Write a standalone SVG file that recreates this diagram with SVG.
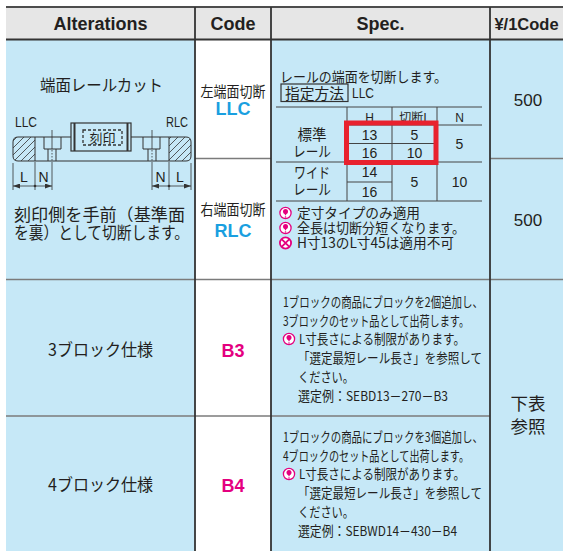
<svg xmlns="http://www.w3.org/2000/svg" width="563" height="551" viewBox="0 0 563 551">
<style>
.j{font-family:"Noto Sans CJK JP","Noto Sans",sans-serif;fill:#231f20}
.l{font-family:"Liberation Sans",Arial,sans-serif;fill:#231f20}
.hd{font-family:"Liberation Sans",Arial,sans-serif;font-weight:bold;font-size:18px;fill:#231f20;text-anchor:middle}
.m{text-anchor:middle}
.col{stroke:#333;stroke-width:1.8}
.sep{stroke:#7b7b7b;stroke-width:1.6}
.tb{stroke:#444;stroke-width:1}
.blue{fill:#1a9fe0;font-family:"Liberation Sans",Arial,sans-serif;font-weight:bold;font-size:18px;text-anchor:middle}
.mag{fill:#e4007f;font-family:"Liberation Sans",Arial,sans-serif;font-weight:bold;font-size:18px;text-anchor:middle}
</style>
<defs>
<pattern id="hatch" patternUnits="userSpaceOnUse" width="7" height="7">
<path d="M-2,2 L2,-2 M0,7 L7,0 M5,9 L9,5" stroke="#333" stroke-width="0.8"/>
</pattern>
<marker id="ah" markerUnits="userSpaceOnUse" markerWidth="7" markerHeight="5" refX="7" refY="2.5" orient="auto-start-reverse">
<path d="M0,0 L7,2.5 L0,5 Z" fill="#333"/>
</marker>
<g id="pin"><circle r="5.6" fill="#fff" stroke="#e4007f" stroke-width="1.3"/><circle cy="-1.4" r="2.5" fill="#e4007f"/><path d="M-1.7,-0.5 L0,2.8 L1.7,-0.5Z" fill="#e4007f"/><circle cy="4" r="0.8" fill="#e4007f"/></g>
<g id="ng"><circle r="5.6" fill="#fff" stroke="#e4007f" stroke-width="1.8"/><path d="M-3.6,-3.6 L3.6,3.6 M3.6,-3.6 L-3.6,3.6" stroke="#e4007f" stroke-width="1.8"/></g>
</defs>

<g id="backgrounds">
<rect x="6" y="39" width="189" height="512" fill="#c6e8f7"/>
<rect x="195" y="39" width="76" height="512" fill="#ffffff"/>
<rect x="271" y="39" width="219" height="512" fill="#c6e8f7"/>
<rect x="490" y="39" width="73" height="512" fill="#c6e8f7"/>
<rect x="6" y="7" width="557" height="32" fill="#e6e6e6"/>
</g>

<g id="header">
<text class="hd" x="100.5" y="30">Alterations</text>
<text class="hd" x="233" y="30">Code</text>
<text class="hd" x="380.5" y="30">Spec.</text>
<text class="hd" x="526.5" y="30" style="font-size:16.5px">¥/1Code</text>
</g>

<g id="grid">
<line x1="6" y1="7" x2="563" y2="7" stroke="#4d4d4d" stroke-width="2"/>
<line x1="6" y1="39.5" x2="563" y2="39.5" stroke="#333" stroke-width="2"/>
<line class="sep" x1="195" y1="158.5" x2="271" y2="158.5"/>
<line class="sep" x1="490" y1="158.5" x2="563" y2="158.5"/>
<line class="sep" x1="6" y1="279.5" x2="563" y2="279.5"/>
<line class="sep" x1="6" y1="416" x2="490" y2="416"/>
<line class="col" x1="195" y1="7" x2="195" y2="551"/>
<line class="col" x1="271" y1="7" x2="271" y2="551"/>
<line class="col" x1="490" y1="7" x2="490" y2="551"/>
</g>

<g id="alt-endcut">
<text class="j" x="40" y="91" font-size="16" textLength="123" lengthAdjust="spacingAndGlyphs">端面レールカット</text>
<text class="l" x="15" y="127" font-size="14" textLength="22" lengthAdjust="spacingAndGlyphs">LLC</text>
<text class="l" x="166" y="127" font-size="14" textLength="22" lengthAdjust="spacingAndGlyphs">RLC</text>
<g fill="none" stroke="#333" stroke-width="1">
<path d="M35,137 H18 Q13,137 13,142 V156 Q13,161 18,161 H35 Z" fill="url(#hatch)"/>
<path d="M169,137 H186 Q191,137 191,142 V156 Q191,161 186,161 H169 Z" fill="url(#hatch)"/>
<path d="M35,137 H71 M131,137 H169 M35,161 H169"/>
<rect x="71" y="123" width="60" height="28" fill="#c6e8f7" stroke-width="1.2"/>
<path d="M74.5,123 V151 M127.5,123 V151" stroke-width="2"/>
<rect x="83" y="130" width="39" height="15" stroke-width="1.3" stroke-dasharray="3 2"/>
<path d="M44,137 V149 H61 V137 M48,149 V161 M56,149 V161"/>
<path d="M143,137 V149 H160 V137 M148,149 V161 M156,149 V161"/>
<path d="M52,130 V149 M52,162 V190 M152,130 V149 M152,162 V190" stroke-width="0.8"/>
<path d="M52,150 V161 M152,150 V161" stroke-width="0.8" stroke-dasharray="1.5 1.5"/>
<path d="M13,163 V190 M35,162 V190 M169,162 V190 M191,163 V190" stroke-width="0.8"/>
<path d="M13,186 H52" stroke-width="0.8" marker-start="url(#ah)" marker-end="url(#ah)"/>
<path d="M152,186 H191" stroke-width="0.8" marker-start="url(#ah)" marker-end="url(#ah)"/>
</g>
<circle cx="35" cy="186" r="1.3" fill="#333"/>
<circle cx="169" cy="186" r="1.3" fill="#333"/>
<text class="j m" x="102.5" y="142.5" font-size="13">刻印</text>
<text class="l m" x="24" y="181.5" font-size="14">L</text>
<text class="l m" x="43.5" y="181.5" font-size="14">N</text>
<text class="l m" x="160.5" y="181.5" font-size="14">N</text>
<text class="l m" x="180" y="181.5" font-size="14">L</text>
<text class="j" x="14" y="221" font-size="16.5" textLength="171" lengthAdjust="spacingAndGlyphs">刻印側を手前（基準面</text>
<text class="j" x="14" y="239" font-size="16.5" textLength="175" lengthAdjust="spacingAndGlyphs">を裏）として切断します。</text>
</g>

<g id="code-llc">
<text class="j m" x="233" y="97" font-size="14.5" textLength="65" lengthAdjust="spacingAndGlyphs">左端面切断</text>
<text class="blue" x="233" y="114.5">LLC</text>
</g>
<g id="code-rlc">
<text class="j m" x="233" y="215" font-size="14.5" textLength="65" lengthAdjust="spacingAndGlyphs">右端面切断</text>
<text class="blue" x="233" y="236.5">RLC</text>
</g>

<g id="spec-endcut">
<text class="j" x="280" y="82" font-size="14" textLength="167" lengthAdjust="spacingAndGlyphs">レールの端面を切断します。</text>
<rect x="281" y="84" width="67" height="17.5" fill="none" stroke="#333" stroke-width="1.2"/>
<text class="j" x="285" y="98.5" font-size="14.5" textLength="59" lengthAdjust="spacingAndGlyphs">指定方法</text>
<text class="l" x="352" y="98" font-size="14" textLength="22" lengthAdjust="spacingAndGlyphs">LLC</text>
<g class="tb">
<line x1="276" y1="107" x2="482" y2="107"/>
<line x1="347" y1="125" x2="482" y2="125"/>
<line x1="347" y1="143.5" x2="437" y2="143.5"/>
<line x1="276" y1="162" x2="482" y2="162"/>
<line x1="347" y1="182" x2="392" y2="182"/>
<line x1="276" y1="201" x2="482" y2="201"/>
<line x1="347" y1="107" x2="347" y2="201"/>
<line x1="392" y1="107" x2="392" y2="201"/>
<line x1="437" y1="107" x2="437" y2="201"/>
</g>
<text class="l m" x="369.5" y="121.5" font-size="12">H</text>
<text class="j m" x="414.5" y="121.5" font-size="12">切断L</text>
<text class="l m" x="459.5" y="121.5" font-size="12">N</text>
<text class="j m" x="312" y="140" font-size="14.5">標準</text>
<text class="j m" x="312" y="157" font-size="14.5" textLength="38" lengthAdjust="spacingAndGlyphs">レール</text>
<text class="l m" x="369.5" y="140" font-size="14">13</text>
<text class="l m" x="369.5" y="158" font-size="14">16</text>
<text class="l m" x="414.5" y="140" font-size="14">5</text>
<text class="l m" x="414.5" y="158" font-size="14">10</text>
<text class="l m" x="459.5" y="149" font-size="14">5</text>
<text class="j m" x="312" y="178" font-size="14.5" textLength="36" lengthAdjust="spacingAndGlyphs">ワイド</text>
<text class="j m" x="312" y="195" font-size="14.5" textLength="38" lengthAdjust="spacingAndGlyphs">レール</text>
<text class="l m" x="369.5" y="177" font-size="14">14</text>
<text class="l m" x="369.5" y="197" font-size="14">16</text>
<text class="l m" x="414.5" y="187" font-size="14">5</text>
<text class="l m" x="459.5" y="187" font-size="14">10</text>
<rect x="346.5" y="123" width="89.5" height="39.5" fill="none" stroke="#e8212e" stroke-width="5"/>
<use href="#pin" x="285.5" y="213"/>
<use href="#pin" x="285.5" y="228"/>
<use href="#ng" x="285.5" y="243"/>
<text class="j" x="297" y="218" font-size="14" textLength="123" lengthAdjust="spacingAndGlyphs">定寸タイプのみ適用</text>
<text class="j" x="297" y="233" font-size="14" textLength="168" lengthAdjust="spacingAndGlyphs">全長は切断分短くなります。</text>
<text class="j" x="297" y="248" font-size="14" textLength="157" lengthAdjust="spacingAndGlyphs">H寸13のL寸45は適用不可</text>
</g>

<g id="price-llc"><text class="l m" x="528" y="106" font-size="17">500</text></g>
<g id="price-rlc"><text class="l m" x="528" y="226" font-size="17">500</text></g>

<g id="alt-b3"><text class="j" x="48" y="356" font-size="17" textLength="105" lengthAdjust="spacingAndGlyphs">3ブロック仕様</text></g>
<g id="code-b3"><text class="mag" x="233" y="356.5">B3</text></g>
<g id="spec-b3">
<text class="j" x="283" y="307" font-size="13.5" textLength="200" lengthAdjust="spacingAndGlyphs">1ブロックの商品にブロックを2個追加し、</text>
<text class="j" x="283" y="326" font-size="13.5" textLength="186" lengthAdjust="spacingAndGlyphs">3ブロックのセット品として出荷します。</text>
<use href="#pin" x="289" y="339"/>
<text class="j" x="299" y="344" font-size="13.5" textLength="166" lengthAdjust="spacingAndGlyphs">L寸長さによる制限があります。</text>
<text class="j" x="298" y="363" font-size="13.5" textLength="184" lengthAdjust="spacingAndGlyphs">「選定最短レール長さ」を参照して</text>
<text class="j" x="298" y="382" font-size="13.5" textLength="56" lengthAdjust="spacingAndGlyphs">ください。</text>
<text class="j" x="298" y="401" font-size="13.5" textLength="150" lengthAdjust="spacingAndGlyphs">選定例：SEBD13－270－B3</text>
</g>

<g id="alt-b4"><text class="j" x="48" y="491" font-size="17" textLength="105" lengthAdjust="spacingAndGlyphs">4ブロック仕様</text></g>
<g id="code-b4"><text class="mag" x="233" y="491.5">B4</text></g>
<g id="spec-b4">
<text class="j" x="283" y="442" font-size="13.5" textLength="200" lengthAdjust="spacingAndGlyphs">1ブロックの商品にブロックを3個追加し、</text>
<text class="j" x="283" y="461" font-size="13.5" textLength="186" lengthAdjust="spacingAndGlyphs">4ブロックのセット品として出荷します。</text>
<use href="#pin" x="289" y="474"/>
<text class="j" x="299" y="479" font-size="13.5" textLength="166" lengthAdjust="spacingAndGlyphs">L寸長さによる制限があります。</text>
<text class="j" x="298" y="498" font-size="13.5" textLength="184" lengthAdjust="spacingAndGlyphs">「選定最短レール長さ」を参照して</text>
<text class="j" x="298" y="517" font-size="13.5" textLength="56" lengthAdjust="spacingAndGlyphs">ください。</text>
<text class="j" x="298" y="536" font-size="13.5" textLength="159" lengthAdjust="spacingAndGlyphs">選定例：SEBWD14－430－B4</text>
</g>

<g id="price-b3b4">
<text class="j m" x="528" y="410" font-size="17.5">下表</text>
<text class="j m" x="528" y="433" font-size="17.5">参照</text>
</g>
</svg>
